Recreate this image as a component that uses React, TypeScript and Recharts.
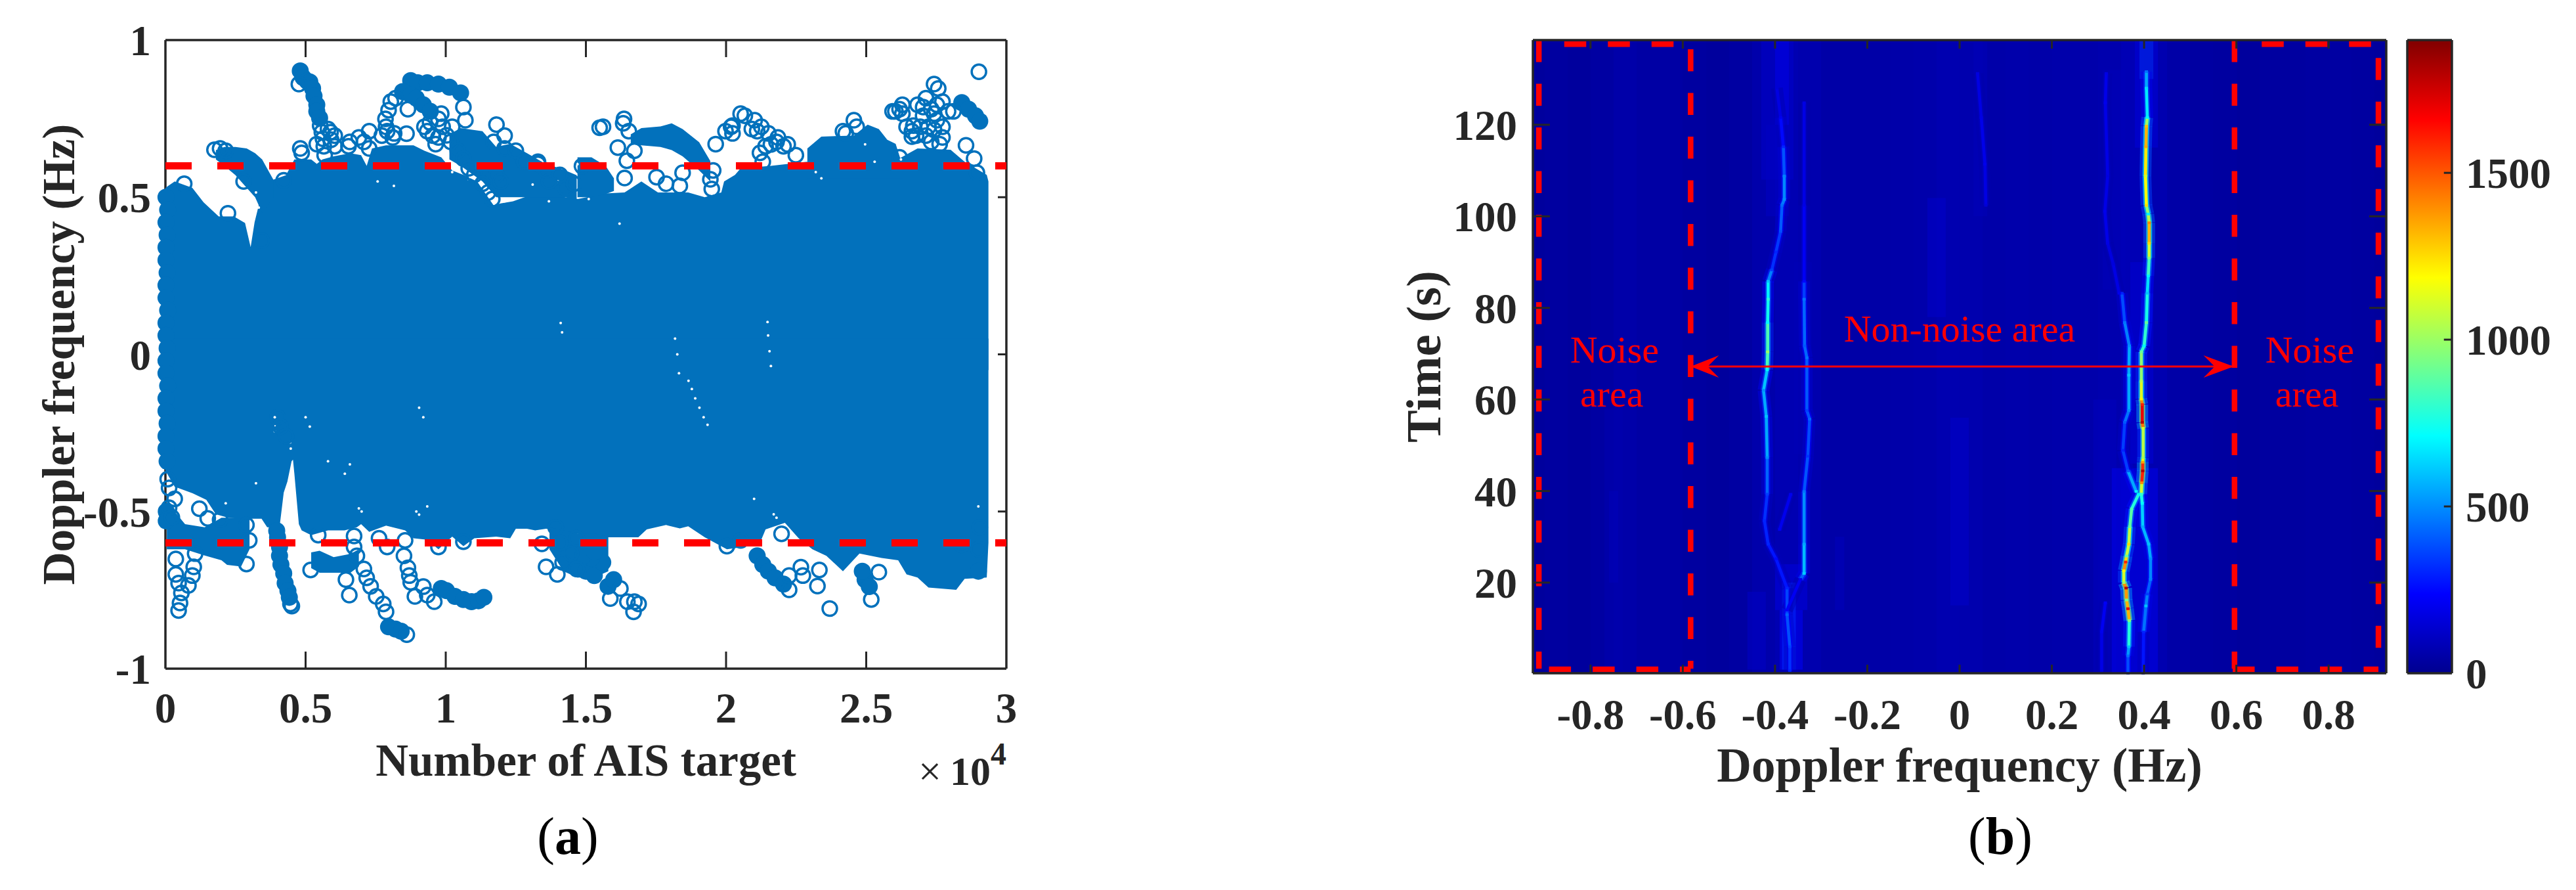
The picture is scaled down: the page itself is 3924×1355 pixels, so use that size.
import React from "react";
import { ComposedChart, Area, Scatter, XAxis, YAxis, ReferenceLine, ReferenceArea, ReferenceDot } from "recharts";

const SERIF = "'Liberation Serif', 'Times New Roman', serif";
const INK = "#262626";
const BLUE = "#0271BC";
const RED = "#FF0000";

// ---- panel (a), x values are in units of 10^4 ----
const xTicksA = [0, 0.5, 1, 1.5, 2, 2.5, 3];
const yTicksA = [-1, -0.5, 0, 0.5, 1];
const noiseLimits = [0.6, -0.6];

// outer edge of the solid mass of markers
const massTop = [[0,0.53],[0.033,0.55],[0.096,0.53],[0.136,0.484],[0.19,0.439],[0.244,0.439],[0.284,0.418],[0.304,0.341],[0.318,0.42],[0.34,0.5],[0.36,0.53],[0.385,0.556],[0.43,0.57],[0.46,0.62],[0.52,0.62],[0.54,0.606],[0.56,0.62],[0.6,0.63],[0.66,0.64],[0.698,0.634],[0.718,0.6],[0.737,0.655],[0.787,0.665],[0.885,0.665],[0.924,0.648],[0.984,0.627],[1.023,0.585],[1.063,0.571],[1.112,0.55],[1.171,0.474],[1.195,0.48],[1.24,0.487],[1.329,0.515],[1.427,0.5],[1.471,0.494],[1.569,0.512],[1.638,0.515],[1.698,0.55],[1.757,0.515],[1.865,0.515],[1.924,0.5],[1.983,0.515],[1.993,0.55],[2.032,0.571],[2.052,0.592],[2.16,0.6],[2.289,0.613],[2.318,0.585],[2.358,0.585],[2.456,0.592],[2.555,0.592],[2.683,0.655],[2.801,0.651],[2.851,0.613],[2.93,0.571],[2.936,0.55]];
const massBottom = [[0,-0.37],[0.033,-0.421],[0.097,-0.442],[0.146,-0.463],[0.18,-0.509],[0.22,-0.519],[0.264,-0.523],[0.343,-0.523],[0.363,-0.55],[0.407,-0.55],[0.422,-0.44],[0.435,-0.405],[0.45,-0.34],[0.455,-0.335],[0.46,-0.38],[0.476,-0.54],[0.486,-0.56],[0.52,-0.575],[0.58,-0.56],[0.639,-0.56],[0.683,-0.55],[0.698,-0.54],[0.727,-0.565],[0.787,-0.545],[0.855,-0.56],[0.885,-0.585],[0.934,-0.59],[0.974,-0.62],[1.023,-0.58],[1.063,-0.61],[1.102,-0.585],[1.18,-0.58],[1.23,-0.585],[1.25,-0.555],[1.29,-0.555],[1.319,-0.56],[1.358,-0.555],[1.47,-0.571],[1.579,-0.582],[1.687,-0.582],[1.717,-0.557],[1.786,-0.543],[1.835,-0.554],[1.865,-0.547],[1.924,-0.582],[2.003,-0.62],[2.062,-0.613],[2.121,-0.6],[2.141,-0.557],[2.21,-0.536],[2.259,-0.585],[2.308,-0.62],[2.358,-0.641],[2.417,-0.69],[2.476,-0.634],[2.555,-0.648],[2.614,-0.655],[2.644,-0.7],[2.683,-0.71],[2.722,-0.742],[2.821,-0.749],[2.851,-0.714],[2.93,-0.71],[2.936,-0.6]];

// smaller solid patches hanging off the mass: [x, low, high]
const massPatches = [
  [[0.18,0.62,0.65],[0.21,0.6,0.66],[0.25,0.57,0.66],[0.29,0.53,0.655],[0.32,0.5,0.64],[0.345,0.45,0.62],[0.385,0.5,0.556]],
  [[1.013,0.62,0.7],[1.053,0.6,0.72],[1.131,0.55,0.71],[1.18,0.5,0.66],[1.23,0.5,0.67],[1.29,0.5,0.64],[1.348,0.5,0.61],[1.427,0.5,0.585],[1.467,0.49,0.57]],
  [[1.47,0.5,0.627],[1.52,0.5,0.627],[1.57,0.51,0.6],[1.6,0.52,0.56]],
  [[1.66,0.67,0.7],[1.698,0.665,0.72],[1.766,0.66,0.725],[1.806,0.65,0.735],[1.845,0.63,0.717],[1.904,0.585,0.675],[1.944,0.55,0.615]],
  [[2.29,0.56,0.655],[2.34,0.56,0.693],[2.456,0.56,0.696],[2.505,0.56,0.731],[2.545,0.56,0.717],[2.575,0.56,0.683],[2.605,0.56,0.67],[2.63,0.56,0.6]],
  [[0.005,-0.62,-0.47],[0.07,-0.62,-0.54],[0.14,-0.64,-0.55],[0.2,-0.655,-0.52],[0.22,-0.67,-0.52],[0.27,-0.675,-0.52],[0.3,-0.62,-0.52]],
  [[0.52,-0.68,-0.63],[0.55,-0.695,-0.625],[0.6,-0.695,-0.645],[0.66,-0.695,-0.635],[0.69,-0.675,-0.62]],
  [[1.37,-0.62,-0.55],[1.42,-0.69,-0.56],[1.47,-0.71,-0.57],[1.53,-0.71,-0.57],[1.58,-0.69,-0.58]],
];

// tracks so dense the rings close up, and the points stacked along x = 0
const denseTracks = [[0.002,0.5],[0.008,0.46],[0.002,0.42],[0.006,0.38],[0.002,0.34],[0.002,0.3],[0.006,0.26],[0.002,0.22],[0.002,0.18],[0.008,0.14],[0.002,0.1],[0.002,0.06],[0.006,0.02],[0.002,-0.02],[0.002,-0.06],[0.008,-0.1],[0.002,-0.14],[0.002,-0.18],[0.006,-0.22],[0.002,-0.26],[0.002,-0.3],[0.006,-0.34],[0.003,-0.5],[0.003,-0.53],[0.481,0.902],[0.491,0.881],[0.505,0.87],[0.515,0.867],[0.525,0.846],[0.53,0.822],[0.54,0.794],[0.54,0.773],[0.55,0.752],[0.875,0.871],[0.9,0.864],[0.934,0.864],[0.974,0.86],[1.013,0.85],[1.053,0.832],[0.846,0.836],[0.875,0.825],[0.895,0.815],[0.92,0.794],[0.945,0.773],[0.397,-0.561],[0.4,-0.582],[0.407,-0.613],[0.407,-0.641],[0.412,-0.669],[0.422,-0.697],[0.427,-0.728],[0.437,-0.752],[0.442,-0.773],[0.796,-0.867],[0.821,-0.874],[0.841,-0.881],[0.984,-0.745],[1.003,-0.752],[1.033,-0.77],[1.063,-0.78],[1.092,-0.787],[1.117,-0.784],[1.136,-0.773],[1.47,-0.683],[1.5,-0.69],[1.53,-0.704],[1.56,-0.662],[1.52,-0.648],[1.579,-0.738],[1.599,-0.717],[1.49,-0.64],[1.53,-0.627],[2.111,-0.641],[2.131,-0.669],[2.151,-0.69],[2.175,-0.711],[2.205,-0.731],[2.496,-0.717],[2.511,-0.739],[2.486,-0.69],[2.841,0.801],[2.865,0.78],[2.89,0.759],[2.905,0.742],[2.9,-0.69]];

// single readable rings
const looseRings = [[0.476,0.86],[0.552,0.728],[0.558,0.707],[0.562,0.686],[0.565,0.662],[0.568,0.634],[0.589,0.707],[0.591,0.683],[0.604,0.662],[0.481,0.655],[0.486,0.641],[0.175,0.651],[0.195,0.655],[0.215,0.648],[0.067,0.543],[0.223,0.449],[0.422,0.554],[0.343,0.362],[0.279,0.55],[1.063,0.787],[1.07,0.745],[0.821,0.815],[0.804,0.804],[0.796,0.777],[0.785,0.749],[0.787,0.724],[0.791,0.71],[0.865,0.78],[0.86,0.702],[0.811,0.69],[0.727,0.71],[0.69,0.69],[0.653,0.662],[0.727,0.655],[0.974,0.749],[0.924,0.724],[0.954,0.696],[0.989,0.724],[0.964,0.669],[1.018,0.676],[1.043,0.648],[1.063,0.623],[1.082,0.592],[1.102,0.571],[1.131,0.543],[1.151,0.515],[1.166,0.494],[1.181,0.731],[1.21,0.696],[1.171,0.676],[1.181,0.571],[1.196,0.55],[1.329,0.606],[1.368,0.55],[1.427,0.529],[1.486,0.599],[1.561,0.724],[1.549,0.721],[1.636,0.749],[1.633,0.735],[1.653,0.71],[1.614,0.658],[1.673,0.648],[1.646,0.616],[1.638,0.561],[1.752,0.564],[1.845,0.578],[1.786,0.543],[1.835,0.536],[1.954,0.585],[1.944,0.557],[1.949,0.526],[1.963,0.669],[2.023,0.703],[2.018,0.724],[2.052,0.766],[2.067,0.759],[2.102,0.745],[2.126,0.724],[2.092,0.717],[2.141,0.662],[2.185,0.69],[2.205,0.662],[2.249,0.634],[2.131,0.613],[2.466,0.724],[2.427,0.703],[2.604,0.773],[2.629,0.794],[2.629,0.766],[2.742,0.86],[2.757,0.846],[2.902,0.899],[2.713,0.815],[2.703,0.787],[2.772,0.804],[2.732,0.78],[2.663,0.71],[2.678,0.696],[2.722,0.724],[2.772,0.724],[2.772,0.69],[2.732,0.676],[2.811,0.773],[2.856,0.665],[2.885,0.623],[2.895,0.578],[2.619,0.627],
  [0.58,0.717],[0.604,0.696],[0.54,0.669],[0.658,0.676],[0.708,0.676],[0.772,0.696],[0.816,0.703],[0.934,0.71],[0.974,0.69],[1.003,0.697],[0.944,0.738],[0.984,0.766],[1.023,0.724],[1.21,0.655],[1.25,0.648],[1.28,0.613],[1.329,0.613],[1.358,0.585],[1.407,0.571],[1.457,0.543],[2.594,0.773],[2.619,0.78],[2.703,0.759],[2.668,0.728],[2.742,0.766],[2.792,0.773],[2.683,0.794],[2.752,0.794],[2.713,0.696],[2.762,0.669],[2.693,0.724],[2.644,0.724],[2.752,0.745],[2.742,0.714],[2.663,0.693],[2.023,0.728],[1.998,0.71],[2.111,0.71],[2.151,0.703],[2.18,0.676],[2.22,0.668],[2.16,0.668],[2.121,0.641],[2.417,0.71],[2.456,0.745],
  [0.4,-0.2],[0.41,-0.23],[0.43,-0.26],
  [0.289,-0.543],[0.299,-0.592],[0.289,-0.667],[0.033,-0.46],[0.008,-0.397],[0.013,-0.425],[0.013,-0.488],[0.023,-0.519],[0.037,-0.651],[0.106,-0.634],[0.101,-0.676],[0.037,-0.7],[0.096,-0.704],[0.047,-0.728],[0.082,-0.735],[0.057,-0.759],[0.052,-0.791],[0.047,-0.815],[0.121,-0.491],[0.151,-0.522],[0.195,-0.526],[0.446,-0.794],[0.451,-0.801],[0.518,-0.686],[0.545,-0.575],[0.644,-0.717],[0.656,-0.766],[0.673,-0.578],[0.673,-0.613],[0.683,-0.641],[0.708,-0.683],[0.718,-0.711],[0.732,-0.738],[0.752,-0.77],[0.777,-0.794],[0.787,-0.819],[0.861,-0.892],[0.762,-0.585],[0.791,-0.613],[0.855,-0.592],[0.851,-0.641],[0.865,-0.679],[0.87,-0.704],[0.875,-0.725],[0.89,-0.77],[0.92,-0.739],[0.959,-0.787],[0.934,-0.766],[0.974,-0.613],[1.063,-0.596],[1.343,-0.603],[1.358,-0.676],[1.398,-0.7],[1.417,-0.662],[1.447,-0.634],[1.467,-0.683],[1.407,-0.6],[1.467,-0.585],[1.392,-0.55],[1.623,-0.745],[1.587,-0.777],[1.648,-0.787],[1.673,-0.787],[1.688,-0.794],[1.67,-0.819],[2.225,-0.749],[2.198,-0.571],[2.225,-0.704],[2.267,-0.677],[2.274,-0.704],[2.333,-0.686],[2.326,-0.737],[2.37,-0.809],[2.545,-0.693],[2.518,-0.78],[2.003,-0.61],[2.052,-0.592],[2.9,-0.62],[2.84,-0.606],[2.905,-0.55]];

// white specks left open inside the mass
const massGaps = [[1.866,-0.084],[1.878,-0.11],[1.89,-0.14],[1.905,-0.17],[1.92,-0.2],[1.934,-0.224],[2.148,0.103],[2.15,0.06],[2.155,0.01],[2.16,-0.037],[1.818,0.05],[1.826,0.0],[1.832,-0.06],[1.41,0.1],[1.415,0.07],[0.905,-0.17],[0.92,-0.2],[1.62,0.416],[0.39,-0.2],[0.39,-0.225],[0.39,-0.245],[0.5,-0.2],[0.515,-0.23],[1.47,0.605],[1.5,0.6],[2.32,0.58],[2.34,0.56],[0.69,-0.49],[0.7,-0.5],
  [0.445,-0.28],[0.447,-0.3],[0.895,-0.5],[0.905,-0.51],[0.934,-0.484],[0.64,-0.38],[0.58,-0.34],[0.658,-0.35],[0.323,-0.41],[0.215,-0.474],[2.1,-0.46],[2.17,-0.509],[2.18,-0.52],[2.9,-0.484],[0.323,0.515],[0.333,0.467],[0.757,0.55],[0.815,0.536],[1.023,0.58],[1.082,0.557],[1.21,0.487],[1.368,0.487],[1.31,0.54],[1.4,0.55],[1.51,0.494],[2.496,0.668],[2.53,0.613],[2.624,0.62]];

// ---- panel (b) ----
const xTicksB = [-0.8, -0.6, -0.4, -0.2, 0, 0.2, 0.4, 0.6, 0.8];
const yTicksB = [20, 40, 60, 80, 100, 120];
const colorTicks = [0, 500, 1000, 1500];
const COLOR_MAX = 1898;

// noise floor per 0.05 Hz column, starting at -0.95
const floorColumns = [30,35,30,40,55,45,45,35,30,40,60,75,65,50,50,50,55,60,70,65,55,60,55,60,60,65,80,70,50,40,35,30,35,35,40,40,35,30];

// brighter smears: [f from, f to, t from, t to, level]
const smears = [
  [-0.77,-0.73,1,58,70],[-0.76,-0.74,20,40,90],[-0.46,-0.42,1,18,120],[-0.39,-0.34,1,14,230],[-0.4,-0.33,14,24,170],[-0.385,-0.355,1,20,320],
  [-0.43,-0.36,108,138.5,130],[-0.4,-0.37,120,138.5,190],[-0.42,-0.37,100,120,110],[-0.36,-0.32,48,90,80],[-0.07,-0.03,78,104,130],[-0.02,0.02,15,56,130],
  [0.03,0.06,100,138,90],[0.29,0.34,0.2,60,100],[0.33,0.43,0.2,45,200],[0.39,0.42,130,138.5,420],[0.38,0.43,115,138.5,160],
  [-0.27,-0.25,14,30,100],[0.31,0.36,84,132,90],[0.37,0.42,46,90,150],
];

// ridges: [doppler, time, level]
const ridges = [
  [[-0.396,128,150],[-0.388,121.6,200],[-0.382,115.2,300],[-0.38,108.8,480],[-0.38,103.7,500],[-0.385,102.4,430],[-0.388,96.7,380],[-0.398,92.2,300],[-0.407,88.3,350],[-0.415,85.8,600],[-0.415,81.9,780],[-0.416,76.8,700],[-0.416,70.4,1000],[-0.417,66.5,700],[-0.425,62,500],[-0.419,56.3,600],[-0.417,47.3,500],[-0.417,39.3,350],[-0.423,33.5,300],[-0.415,28.4,300],[-0.398,25.2,250],[-0.374,18.8,300],[-0.374,13,420],[-0.368,6,350],[-0.368,0.8,300]],
  [[-0.337,124.8,180],[-0.337,102.4,180],[-0.337,85.8,250],[-0.337,81.9,450],[-0.336,71.7,400],[-0.331,69.1,450],[-0.331,57.6,350],[-0.325,55.7,420],[-0.329,47.6,330],[-0.337,39.9,450],[-0.337,28.4,550],[-0.337,22,620],[-0.345,20.7,200],[-0.374,14,220]],
  [[-0.366,39.3,200],[-0.39,31.6,200]],
  [[0.039,131.2,170],[0.047,121.6,180],[0.055,111.4,200],[0.057,102.4,150]],
  [[0.352,83.2,300],[0.358,76.8,450],[0.368,71.7,500],[0.367,65.3,600],[0.367,57.6,500],[0.358,55,400],[0.354,48.9,300],[0.365,44.4,400],[0.383,39.9,700]],
  [[0.405,131.6,450],[0.405,128,650],[0.407,121.6,700],[0.405,119.7,1300],[0.404,115.2,1350],[0.403,108.8,1100],[0.405,102.4,1250],[0.409,100.5,700],[0.411,98.6,1400],[0.411,94.1,1250],[0.411,90.9,950],[0.409,87,700],[0.407,83.2,600],[0.405,76.8,900],[0.4,71.7,700],[0.394,70.4,900],[0.394,64,1050],[0.394,60.1,1200],[0.396,58.9,1600],[0.396,55,1800],[0.398,53.7,1100],[0.398,47.3,1000],[0.397,46.3,1350],[0.397,44.4,1800],[0.395,41.8,1400],[0.394,39.3,800]],
  [[0.394,39.3,800],[0.396,37.3,700],[0.397,32.2,550],[0.41,28.4,600],[0.414,25.2,500],[0.414,20.7,480],[0.407,17.5,350],[0.404,14.9,600],[0.399,9.2,300],[0.398,0.2,250]],
  [[0.388,39.3,700],[0.373,36.1,850],[0.369,32.2,900],[0.367,28.4,1250],[0.362,25.8,900],[0.36,24.5,1600],[0.356,22.6,1200],[0.356,20,1000],[0.361,18.8,1800],[0.362,16.2,950],[0.365,14.3,1700],[0.368,11.7,950],[0.367,6,600],[0.365,4,450],[0.365,0.2,300]],
  [[0.318,131.2,180],[0.316,124.8,200],[0.321,108.8,170],[0.315,101.1,200],[0.321,94.1,180],[0.333,89.6,160],[0.346,83.2,200]],
  [[0.316,15.6,220],[0.308,9.2,200],[0.308,0.8,170]],
];

const noiseBoxLines = [
  { from: [-0.912,138.5], to: [-0.912,1.2] },
  { from: [-0.583,136.5], to: [-0.583,1.2] },
  { from: [-0.857,137.6], to: [-0.583,137.6] },
  { from: [-0.89,1.05], to: [-0.583,1.05] },
  { from: [0.596,138.5], to: [0.596,1.2] },
  { from: [0.908,134.6], to: [0.908,1.2] },
  { from: [0.655,137.6], to: [0.908,137.6] },
  { from: [0.592,1.05], to: [0.908,1.05] },
];
const spanArrow = { from: -0.573, to: 0.59, time: 67.2 };
const areaNotes = [
  { f: -0.748, t: 68, text: "Noise" },
  { f: -0.754, t: 58.4, text: "area" },
  { f: 0.759, t: 68, text: "Noise" },
  { f: 0.753, t: 58.4, text: "area" },
  { f: 0, t: 72.6, text: "Non-noise area" },
];

const JET = [[0,[0,0,143]],[0.125,[0,0,255]],[0.375,[0,255,255]],[0.625,[255,255,0]],[0.875,[255,0,0]],[1,[128,0,0]]];
function jet(level) {
  const u = Math.min(1, Math.max(0, level / COLOR_MAX));
  for (let i = 1; i < JET.length; i++) {
    if (u <= JET[i][0]) {
      const k = (u - JET[i - 1][0]) / (JET[i][0] - JET[i - 1][0]);
      const c = JET[i - 1][1].map((v, n) => Math.round(v + (JET[i][1][n] - v) * k));
      return `rgb(${c[0]},${c[1]},${c[2]})`;
    }
  }
  return "rgb(128,0,0)";
}

const tickFont = { fontFamily: SERIF, fontWeight: 700, fontSize: 65, fill: INK };
const titleFont = { fontFamily: SERIF, fontWeight: 700, fill: INK };

const xy = (rows) => rows.map(([x, y]) => ({ x, y }));
const bandRows = (rows) => rows.map(([x, lo, hi]) => ({ x, band: [lo, hi] }));
const ridgePoints = ridges.flat().map(([x, y, level]) => ({ x, y, level }));

const Ring = (p) => <circle cx={p.cx} cy={p.cy} r={11} fill="none" stroke={BLUE} strokeWidth={3.5} />;
const Blob = (p) => <circle cx={p.cx} cy={p.cy} r={13} fill={BLUE} />;
const Gap = (p) => <circle cx={p.cx} cy={p.cy} r={2} fill="#fff" />;
const RidgeDot = (p) => <rect x={p.cx - 2.5} y={p.cy - 2} width={5} height={4} fill={jet(p.payload.level)} />;
const Nothing = () => <g />;

// MATLAB style box with ticks pointing inwards, on both sides
function boxLines(domX, domY, ticksX, ticksY, lenX, lenY, zIndex, yAxisId = "l") {
  const common = { xAxisId: "b", yAxisId, ifOverflow: "visible", zIndex, stroke: INK };
  const seg = (key, x0, y0, x1, y1, w) => (
    <ReferenceLine key={key} {...common} strokeWidth={w} segment={[{ x: x0, y: y0 }, { x: x1, y: y1 }]} />
  );
  const out = [
    seg("fb", domX[0], domY[0], domX[1], domY[0], 3.5),
    seg("ft", domX[0], domY[1], domX[1], domY[1], 3.5),
    seg("fl", domX[0], domY[0], domX[0], domY[1], 3.5),
    seg("fr", domX[1], domY[0], domX[1], domY[1], 3.5),
  ];
  ticksX.forEach((v) => {
    if (v === domX[0] || v === domX[1]) return;
    out.push(seg(`xb${v}`, v, domY[0], v, domY[0] + lenY, 3));
    out.push(seg(`xt${v}`, v, domY[1], v, domY[1] - lenY, 3));
  });
  ticksY.forEach((v) => {
    if (v === domY[0] || v === domY[1]) return;
    out.push(seg(`yl${v}`, domX[0], v, domX[0] + lenX, v, 3));
    out.push(seg(`yr${v}`, domX[1], v, domX[1] - lenX, v, 3));
  });
  return out;
}

function ScatterPanel() {
  return (
    <ComposedChart width={1700} height={1355} margin={{ top: 61, right: 167, bottom: 167, left: 0 }}>
      <XAxis type="number" dataKey="x" xAxisId="b" domain={[0, 3]} ticks={xTicksA} height={170}
        tick={tickFont} axisLine={false} tickLine={false} tickSize={0} tickMargin={36} interval={0}
        label={{ value: "Number of AIS target", position: "insideBottom", offset: 7, style: { ...titleFont, fontSize: 69 } }} />
      <YAxis type="number" dataKey="y" yAxisId="l" domain={[-1, 1]} ticks={yTicksA} width={252} tick={tickFont}
        axisLine={false} tickLine={false} tickSize={0} tickMargin={22} interval={0}
        label={{ value: "Doppler frequency (Hz)", angle: -90, position: "insideLeft", offset: 88, style: { ...titleFont, fontSize: 69.3, textAnchor: "middle" } }} />
      {boxLines([0, 3], [-1, 1], xTicksA, yTicksA, 0.0304, 0.0543, 50)}
      <Area data={xy(massTop)} xAxisId="b" yAxisId="l" dataKey="y" type="linear" baseValue={-0.05} stroke="none" fill={BLUE} fillOpacity={1} isAnimationActive={false} dot={false} activeDot={false} />
      <Area data={xy(massBottom)} xAxisId="b" yAxisId="l" dataKey="y" type="linear" baseValue={0.05} stroke="none" fill={BLUE} fillOpacity={1} isAnimationActive={false} dot={false} activeDot={false} />
      {massPatches.map((rows, i) => (
        <Area key={i} data={bandRows(rows)} xAxisId="b" yAxisId="l" dataKey="band" type="linear" stroke="none" fill={BLUE} fillOpacity={1} isAnimationActive={false} dot={false} activeDot={false} />
      ))}
      <Scatter data={xy(massGaps)} xAxisId="b" yAxisId="l" shape={Gap} isAnimationActive={false} />
      <Scatter data={xy(denseTracks)} xAxisId="b" yAxisId="l" shape={Blob} isAnimationActive={false} />
      <Scatter data={xy(looseRings)} xAxisId="b" yAxisId="l" shape={Ring} isAnimationActive={false} />
      {noiseLimits.map((y) => (
        <ReferenceLine key={y} xAxisId="b" yAxisId="l" y={y} stroke={RED} strokeWidth={11} strokeDasharray="40 39" zIndex={900} />
      ))}
    </ComposedChart>
  );
}

function SpectrogramPanel() {
  const segments = (layer, stroke, width, opacity) =>
    ridges.flatMap((ridge, r) => ridge.slice(1).map((p, i) => {
      const q = ridge[i];
      return (
        <ReferenceLine key={`${layer}${r}-${i}`} xAxisId="b" yAxisId="l" ifOverflow="visible"
          segment={[{ x: q[0], y: q[1] }, { x: p[0], y: p[1] }]}
          stroke={stroke(p[2], q[2])} strokeOpacity={opacity} strokeWidth={width} />
      );
    }));
  return (
    <ComposedChart width={1700} height={1355} margin={{ top: 61, right: 65, bottom: 160, left: 0 }}>
      <XAxis type="number" dataKey="x" xAxisId="b" domain={[-0.925, 0.925]} ticks={xTicksB} height={170} tick={tickFont}
        axisLine={false} tickLine={false} tickSize={0} tickMargin={39} interval={0}
        label={{ value: "Doppler frequency (Hz)", position: "insideBottom", offset: 5, style: { ...titleFont, fontSize: 73 } }} />
      <YAxis type="number" dataKey="y" yAxisId="l" domain={[0.2, 138.5]} ticks={yTicksB} width={335} tick={tickFont}
        axisLine={false} tickLine={false} tickSize={0} tickMargin={24} interval={0}
        label={{ value: "Time (s)", angle: -90, position: "insideLeft", offset: 168, style: { ...titleFont, fontSize: 74.6, textAnchor: "middle" } }} />
      {floorColumns.map((level, i) => {
        const f0 = Math.max(-0.925, -0.95 + i * 0.05);
        const f1 = Math.min(0.925, -0.95 + (i + 1) * 0.05);
        return <ReferenceArea key={i} xAxisId="b" yAxisId="l" x1={f0} x2={f1} y1={0.2} y2={138.5} fill={jet(level)} fillOpacity={1} stroke="none" shapeRendering="crispEdges" />;
      })}
      {smears.map(([f0, f1, t0, t1, level], i) => (
        <ReferenceArea key={i} xAxisId="b" yAxisId="l" x1={f0} x2={f1} y1={t0} y2={t1} fill={jet(level)} fillOpacity={0.5} stroke="none" />
      ))}
      {segments("h", (a, b) => jet(Math.max(a, b) * 0.3), 18, 0.45)}
      {segments("m", (a, b) => jet(Math.max(a, b) * 0.55), 9, 0.6)}
      {segments("c", (a, b) => jet((a + b) / 2), 4.6, 1)}
      <Scatter data={ridgePoints} xAxisId="b" yAxisId="l" shape={RidgeDot} isAnimationActive={false} />
      {boxLines([-0.925, 0.925], [0.2, 138.5], xTicksB, yTicksB, 0.037, 1.87, 950)}
      {noiseBoxLines.map((line, i) => (
        <ReferenceLine key={i} xAxisId="b" yAxisId="l" ifOverflow="visible" zIndex={900}
          segment={[{ x: line.from[0], y: line.from[1] }, { x: line.to[0], y: line.to[1] }]}
          stroke={RED} strokeWidth={8.5} strokeDasharray="33.5 33" />
      ))}
      <ReferenceLine xAxisId="b" yAxisId="l" ifOverflow="visible" zIndex={900}
        segment={[{ x: spanArrow.from, y: spanArrow.time }, { x: spanArrow.to, y: spanArrow.time }]} stroke={RED} strokeWidth={3} />
      <ReferenceDot xAxisId="b" yAxisId="l" x={spanArrow.from} y={spanArrow.time} r={1} zIndex={900}
        shape={(p) => <polygon points={`${p.cx - 7},${p.cy} ${p.cx + 36},${p.cy - 17} ${p.cx + 19},${p.cy} ${p.cx + 36},${p.cy + 17}`} fill={RED} />} />
      <ReferenceDot xAxisId="b" yAxisId="l" x={spanArrow.to} y={spanArrow.time} r={1} zIndex={900}
        shape={(p) => <polygon points={`${p.cx + 3},${p.cy} ${p.cx - 43},${p.cy - 17} ${p.cx - 26},${p.cy} ${p.cx - 43},${p.cy + 17}`} fill={RED} />} />
      {areaNotes.map((note, i) => (
        <ReferenceDot key={i} xAxisId="b" yAxisId="l" x={note.f} y={note.t} r={1} zIndex={900}
          shape={(p) => <text x={p.cx} y={p.cy} textAnchor="middle" fontFamily={SERIF} fontSize={58} fill={RED}>{note.text}</text>} />
      ))}
    </ComposedChart>
  );
}

function ColorBar() {
  return (
    <ComposedChart width={284} height={1355} margin={{ top: 61, right: 0, bottom: 330, left: 27 }}>
      <defs>
        <linearGradient id="jetBar" x1="0" y1="1" x2="0" y2="0">
          {JET.map(([u, c]) => <stop key={u} offset={u} stopColor={`rgb(${c[0]},${c[1]},${c[2]})`} />)}
        </linearGradient>
      </defs>
      <XAxis type="number" dataKey="x" xAxisId="b" domain={[0, 1]} hide height={0} />
      <YAxis type="number" dataKey="y" yAxisId="l" orientation="right" domain={[0, COLOR_MAX]} ticks={colorTicks} width={189} tick={tickFont}
        axisLine={false} tickLine={false} tickSize={0} tickMargin={21} interval={0} />
      <Scatter data={colorTicks.map((y) => ({ x: 0.5, y }))} xAxisId="b" yAxisId="l" shape={Nothing} isAnimationActive={false} />
      <ReferenceArea xAxisId="b" yAxisId="l" x1={0} x2={1} y1={0} y2={COLOR_MAX} fill="url(#jetBar)" fillOpacity={1} stroke="none" />
      {boxLines([0, 1], [0, COLOR_MAX], [], colorTicks, 0, 0, 950)}
      {colorTicks.filter((v) => v > 0).map((v) => (
        <ReferenceLine key={v} xAxisId="b" yAxisId="l" ifOverflow="visible" zIndex={950} stroke={INK} strokeWidth={3}
          segment={[{ x: 1, y: v }, { x: 0.82, y: v }]} />
      ))}
    </ComposedChart>
  );
}

export default function App() {
  const box = (left, width) => ({ position: "absolute", left, top: 0, width, height: 1355 });
  return (
    <div style={{ position: "absolute", left: 0, top: 0, width: 3924, height: 1355, background: "#fff", overflow: "hidden" }}>
      <div style={box(0, 1700)}><ScatterPanel /></div>
      <div style={box(2000, 1700)}><SpectrogramPanel /></div>
      <div style={box(3640, 284)}><ColorBar /></div>
      <svg width={3924} height={1355} style={{ position: "absolute", left: 0, top: 0, pointerEvents: "none" }}>
        <g fontFamily={SERIF} fill={INK} fontSize={62}>
          <text x={1399} y={1195}>×</text>
          <text x={1447} y={1195} fontWeight={700}>10</text>
          <text x={1509} y={1164} fontWeight={700} fontSize={48}>4</text>
        </g>
        <text x={865} y={1300} textAnchor="middle" fontFamily={SERIF} fontSize={80} fill="#000">(<tspan fontWeight={700}>a</tspan>)</text>
        <text x={3047} y={1300} textAnchor="middle" fontFamily={SERIF} fontSize={80} fill="#000">(<tspan fontWeight={700}>b</tspan>)</text>
      </svg>
    </div>
  );
}
